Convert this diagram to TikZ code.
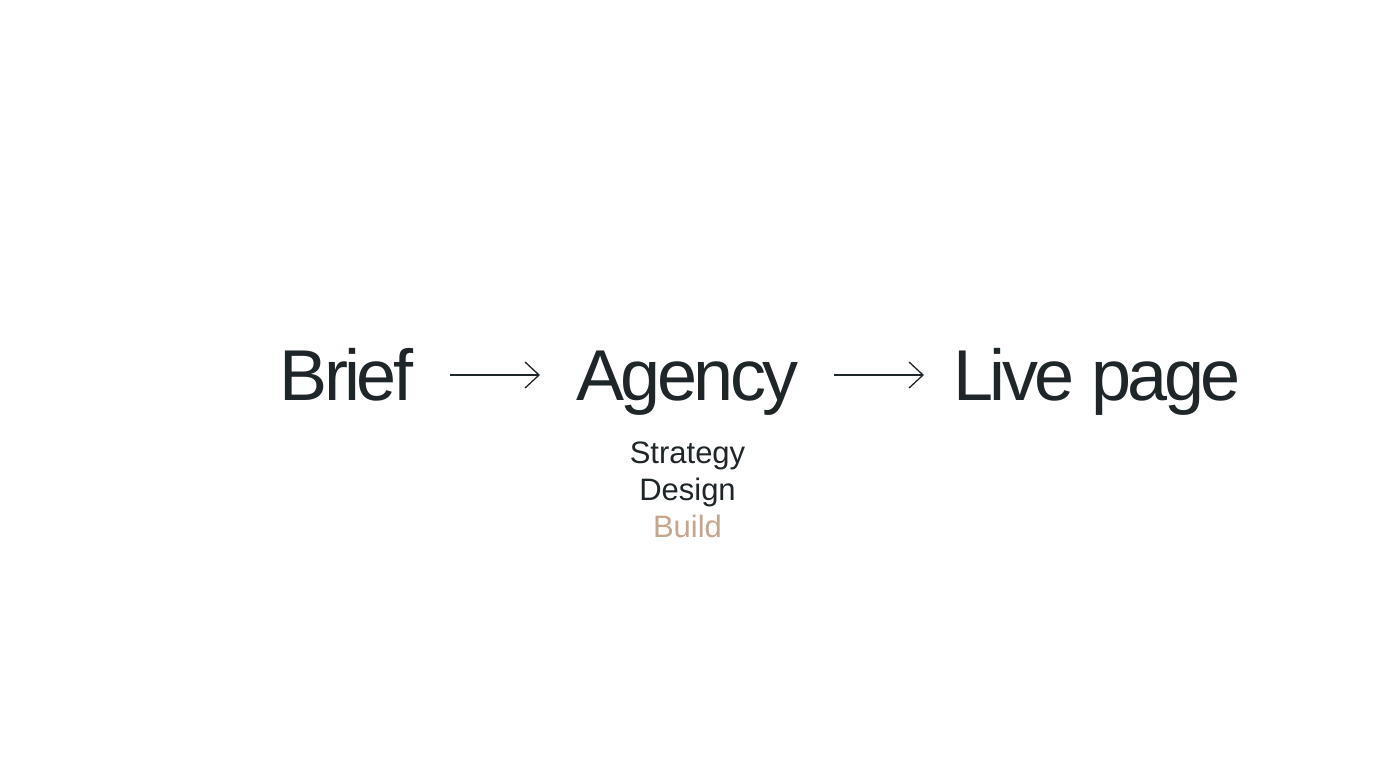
\documentclass[tikz,border=0pt]{standalone}
\usepackage{fontspec}
\setmainfont{Liberation Sans}
\newfontfamily\bigfont[LetterSpace=-5]{Liberation Sans}
\usetikzlibrary{arrows.meta}
\definecolor{ink}{HTML}{1F2629}
\definecolor{tan}{HTML}{C6A68C}
\tikzset{
  big/.style={inner sep=0pt, outer sep=0pt, text=ink, font=\bigfont\fontsize{72}{72}\selectfont, anchor=base},
  sub/.style={inner sep=0pt, outer sep=0pt, text=ink, font=\fontsize{31}{31}\selectfont, anchor=base},
  arr/.style={draw=ink, line width=1.3pt, -{Straight Barb[length=14pt,width=26pt,line width=1.3pt]}}
}
\begin{document}
\begin{tikzpicture}[x=1pt,y=-1pt]
\useasboundingbox[fill=white] (0,0) rectangle (1376,768);
\node[big] (brief) at (346.5,400) {Brief};
\node[big] (agency) at (687.5,400) {Agency};
\node[big] (live) at (1097,400) {Live page};
\node[sub] (strategy) at (687.5,463) {Strategy};
\node[sub] (design) at (687.5,500) {Design};
\node[sub, text=tan] (build) at (687.5,537) {Build};
\draw[arr] ([yshift=25pt]brief.base east -| 450,0) -- ([yshift=25pt]agency.base west -| 540,0);
\draw[arr] ([yshift=25pt]agency.base east -| 834,0) -- ([yshift=25pt]live.base west -| 924,0);
\end{tikzpicture}
\end{document}
